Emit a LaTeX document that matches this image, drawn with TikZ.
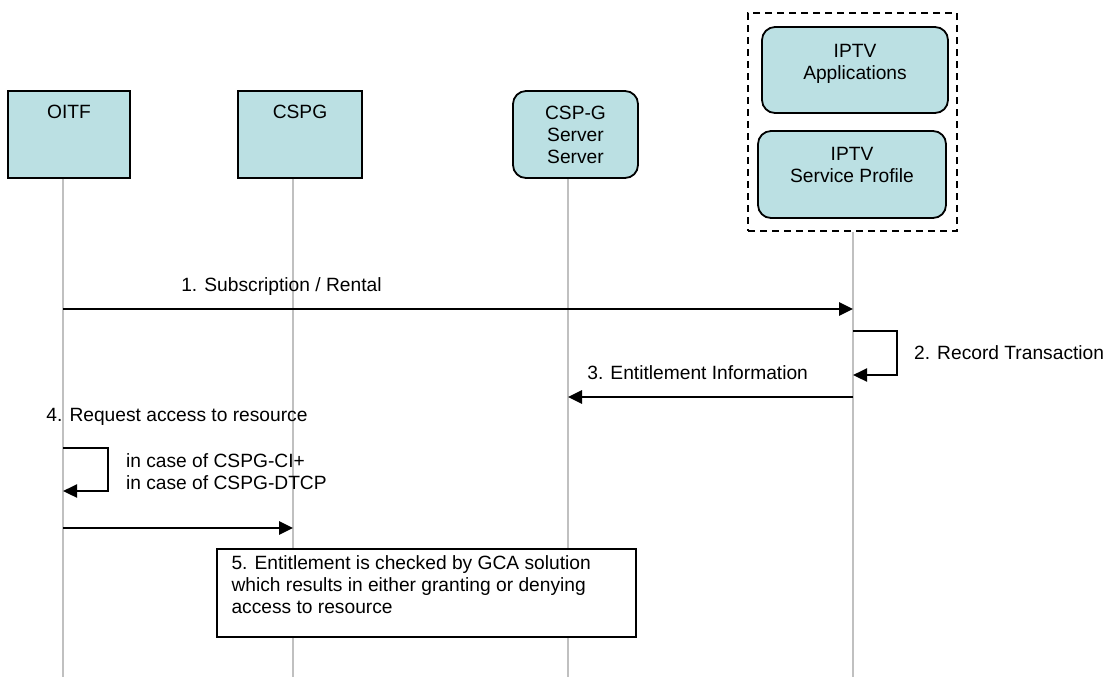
\documentclass[tikz,border=0pt]{standalone}
\usepackage{fontspec}
\setmainfont{Liberation Sans}
\usetikzlibrary{arrows.meta}
\definecolor{boxfill}{RGB}{187,224,227}
\definecolor{lifegray}{RGB}{192,192,192}

\begin{document}
\begin{tikzpicture}[x=0.5pt, y=-0.5pt, >={Triangle[length=7pt, width=6.5pt]},
    every node/.style={font=\fontsize{9.6}{11}\selectfont},
    actor/.style={draw, fill=boxfill, line width=0.9pt, minimum width=61pt, minimum height=43.5pt},
    service/.style={actor, rounded corners=6.5pt},
    lifeline/.style={draw=lifegray, line width=0.8pt},
    msg/.style={->, line width=1.4pt},
    lbl/.style={inner sep=0pt, anchor=west}]
  \useasboundingbox (0,0) rectangle (1106,677);

  % Actors on top
  \node[actor, label={[anchor=center, yshift=-11pt]above:OITF}] (oitf) at (69,134.5) {};
  \node[actor, minimum width=62pt, label={[anchor=center, yshift=-11pt]above:CSPG}] (cspg) at (300,134.5) {};
  \node[service, minimum width=62.5pt, align=center] (server) at (575.5,134.5) {CSP-G\\Server\\Server};

  % IPTV platform
  \node[draw, dash pattern=on 3.5pt off 2.5pt, line width=0.9pt, minimum width=104.5pt, minimum height=109pt] (iptv) at (852.5,122) {};
  \node[service, minimum width=93pt, minimum height=43pt,
        label={[anchor=north, align=center, inner sep=0pt, yshift=-9pt]above:IPTV\\Applications}] (apps) at (855,70) {};
  \node[service, minimum width=94pt,
        label={[anchor=north, align=center, inner sep=0pt, yshift=-8.5pt]above:IPTV\\Service Profile}] (profile) at (852,174.5) {};

  % Lifelines
  \coordinate (oitf-end) at (63,677);
  \coordinate (cspg-end) at (293,677);
  \coordinate (server-end) at (568,677);
  \coordinate (iptv-end) at (853,677);
  \draw[lifeline] (oitf-end |- oitf.south) -- (oitf-end);
  \draw[lifeline] (cspg-end |- cspg.south) -- (cspg-end);
  \draw[lifeline] (server-end |- server.south) -- (server-end);
  \draw[lifeline] (iptv-end |- iptv.south) -- (iptv-end);

  % 1. Subscription
  \coordinate (sub-o) at (63,309);
  \coordinate (sub-i) at (853,309);
  \draw[msg] (sub-o) -- node[lbl, pos=0.148, yshift=11pt] {1. Subscription / Rental} (sub-i);

  % 2. Record transaction
  \coordinate (rec-a) at (853,331);
  \coordinate (rec-b) at (853,375);
  \draw[msg, line width=1.1pt] (rec-a) -- ++(44,0) -- node[lbl, xshift=8pt] {2. Record Transaction} ++(0,44) -- (rec-b);

  % 3. Entitlement back to server
  \coordinate (ent-i) at (853,397);
  \coordinate (ent-s) at (568,397);
  \draw[msg] (ent-i) -- node[lbl, pos=0.937, yshift=12pt] {3. Entitlement Information} (ent-s);

  % 4. Request access
  \node[lbl] (req) at (46,417) {4. Request access to resource};
  \coordinate (chk-a) at (63,448);
  \coordinate (chk-b) at (63,491);
  \draw[msg, line width=1.1pt] (chk-a) -- ++(45,0) -- node[lbl, align=left, xshift=8.5pt, yshift=-1pt]
    {in case of CSPG-CI+\\in case of CSPG-DTCP} ++(0,43) -- (chk-b);
  \coordinate (acc-o) at (63,528);
  \coordinate (acc-c) at (293,528);
  \draw[msg] (acc-o) -- (acc-c);

  % 5. Entitlement check
  \node[draw, fill=white, line width=0.9pt, minimum width=209.5pt, minimum height=44pt] (check) at (426.5,593) {};
  \node[lbl, anchor=north west, align=left] (check-txt) at ([xshift=7.5pt, yshift=-3.5pt]check.north west)
    {5. Entitlement is checked by GCA solution\\which results in either granting or denying\\access to resource};
\end{tikzpicture}
\end{document}
